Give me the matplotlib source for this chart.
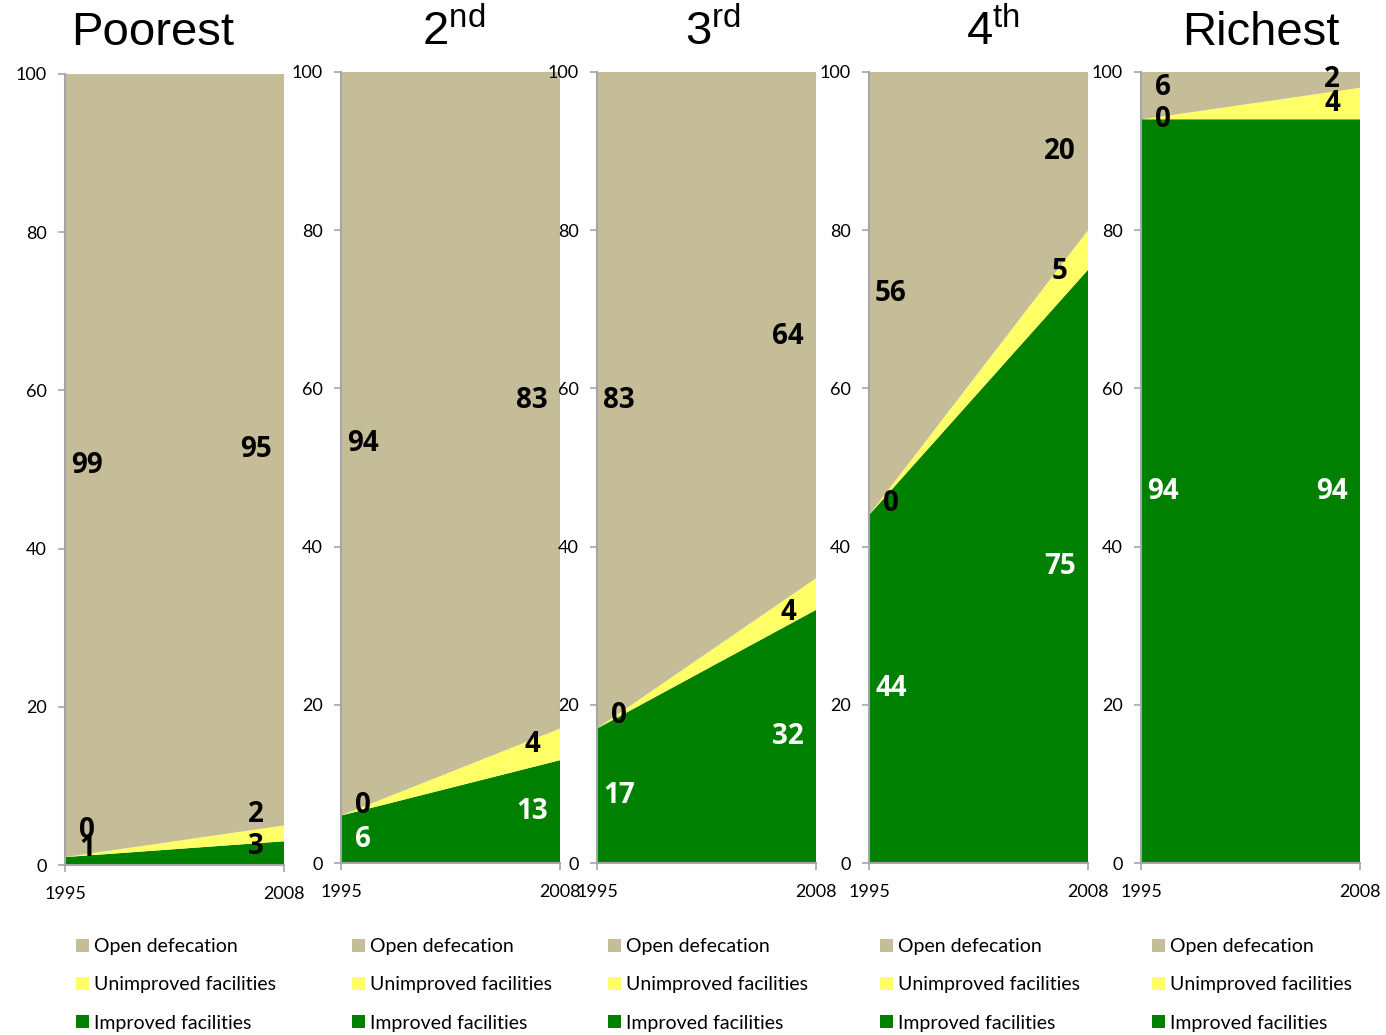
import matplotlib

matplotlib.use("Agg")
import matplotlib.pyplot as plt
from matplotlib.patches import Patch

# Sanitation coverage (%) by wealth quintile, 1995 vs 2008
YEARS = [1995, 2008]
QUINTILES = ["Poorest", "2$^{\\mathregular{nd}}$", "3$^{\\mathregular{rd}}$", "4$^{\\mathregular{th}}$", "Richest"]
IMPROVED = [[1, 3], [6, 13], [17, 32], [44, 75], [94, 94]]
UNIMPROVED = [[0, 2], [0, 4], [0, 4], [0, 5], [0, 4]]
OPEN_DEFECATION = [[99, 95], [94, 83], [83, 64], [56, 20], [6, 2]]
SERIES_NAMES = ["Improved facilities", "Unimproved facilities", "Open defecation"]

GREEN = "#008000"
YELLOW = "#FFFF66"
TAN = "#C4BD97"
AXIS_GREY = "#A6A6A6"

FIG_W, FIG_H = 1386, 1035
PANEL_LEFT = [65, 341, 597, 869, 1141]
PANEL_ZERO = [865, 863, 863, 863, 863]
PANEL_W, PANEL_H = 219, 791
TITLE_X = [0.40, 0.516, 0.53, 0.566, 0.548]

# hand-placed label nudges (data units): (panel, year index, series index)
LABEL_NUDGE = {
    (0, 0, 0): 1.6, (0, 0, 1): 3.4, (0, 1, 0): 0.8, (0, 1, 1): 2.4,
    (1, 0, 1): 1.3,
    (2, 0, 1): 1.7, (2, 1, 1): -2.3, (2, 1, 2): -1.5,
    (3, 0, 1): 1.5, (3, 1, 1): -2.7,
    (4, 0, 2): 1.0,
}

LABEL_FONT = "Lato"
BOLD_FONT = "Open Sans"
TITLE_FONT = "Liberation Sans"

plt.rcParams["mathtext.fontset"] = "custom"
plt.rcParams["mathtext.rm"] = TITLE_FONT

fig = plt.figure(figsize=(FIG_W / 100, FIG_H / 100), dpi=100)

for p, name in enumerate(QUINTILES):
    ax = fig.add_axes([
        PANEL_LEFT[p] / FIG_W,
        1 - PANEL_ZERO[p] / FIG_H,
        PANEL_W / FIG_W,
        PANEL_H / FIG_H,
    ])
    series = [IMPROVED[p], UNIMPROVED[p], OPEN_DEFECATION[p]]
    ax.stackplot(YEARS, *series, colors=[GREEN, YELLOW, TAN], linewidth=0)
    ax.set_xlim(YEARS[0], YEARS[-1])
    ax.set_ylim(0, 100)
    ax.set_xticks(YEARS)
    ax.set_yticks(range(0, 101, 20))
    for side in ("top", "right"):
        ax.spines[side].set_visible(False)
    for side in ("left", "bottom"):
        ax.spines[side].set_color(AXIS_GREY)
        ax.spines[side].set_linewidth(1.5)
    ax.tick_params(axis="both", color=AXIS_GREY, length=5, width=1.2, labelsize=13)
    ax.tick_params(axis="y", pad=8)
    ax.tick_params(axis="x", pad=10)
    for lbl in ax.get_xticklabels() + ax.get_yticklabels():
        lbl.set_fontfamily(LABEL_FONT)

    ax.text(TITLE_X[p], (PANEL_ZERO[p] - 45) / PANEL_H, name, transform=ax.transAxes,
            ha="center", va="baseline", fontsize=34, family=TITLE_FONT)

    # data labels at the middle of each band
    for yi, year in enumerate(YEARS):
        base = 0
        for si, values in enumerate(series):
            v = values[yi]
            mid = base + v / 2 + LABEL_NUDGE.get((p, yi, si), 0)
            base += v
            colour = "white" if si == 0 and v >= 5 else "black"
            dx = 22 if yi == 0 else -28
            ax.annotate(str(v), (year, mid), xytext=(dx, 0), textcoords="offset pixels",
                        ha="center", va="center", fontsize=20, fontweight="bold",
                        family=BOLD_FONT, color=colour, annotation_clip=False)

    handles = [Patch(facecolor=c, edgecolor="none") for c in (TAN, YELLOW, GREEN)]
    ax.legend(handles, SERIES_NAMES[::-1], loc="upper left",
              bbox_to_anchor=(11 / PANEL_W, -(938 - PANEL_ZERO[p]) / PANEL_H),
              frameon=False, prop={"family": LABEL_FONT, "size": 14},
              handlelength=0.65, handleheight=0.65, handletextpad=0.3,
              labelspacing=1.1, borderaxespad=0, borderpad=0)

fig.savefig("out.png", dpi=100)
